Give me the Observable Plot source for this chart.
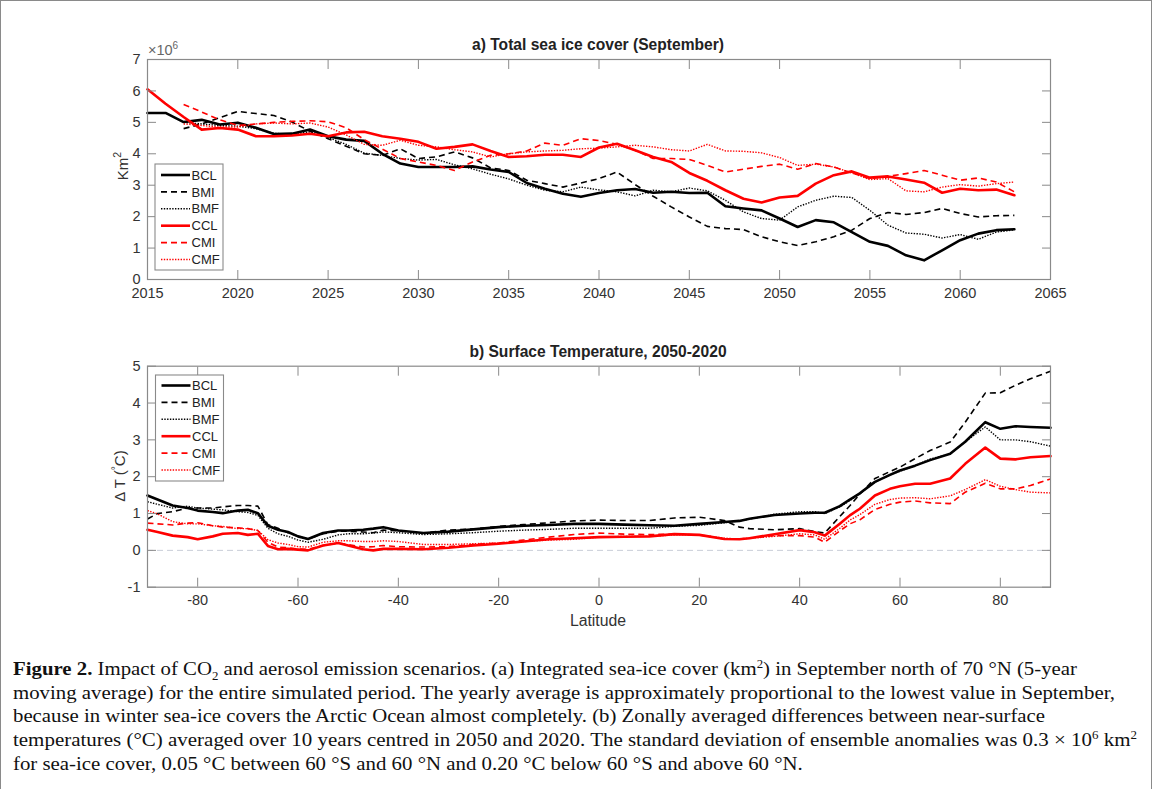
<!DOCTYPE html>
<html><head><meta charset="utf-8">
<script src="https://cdn.jsdelivr.net/npm/d3@7"></script>
<script src="https://cdn.jsdelivr.net/npm/@observablehq/plot@0.6"></script>
<style>
html,body{margin:0;padding:0;background:#fff;}
body{width:1153px;height:789px;position:relative;overflow:hidden;font-family:"Liberation Sans",Arial,sans-serif;}
#frame{position:absolute;left:0;top:0;width:1152px;height:900px;border:1px solid #8a8a8a;box-sizing:border-box;pointer-events:none}
.panel{position:absolute;left:0}
#pa{top:0}
#pb{top:310px}
#caption{position:absolute;left:13px;top:657px;font-family:"Liberation Serif","Times New Roman",serif;font-size:19px;line-height:23.7px;color:#111}
#caption div{white-space:nowrap;transform-origin:0 0;display:inline-block}
#caption sub,#caption sup{font-size:0.62em;line-height:0}
</style></head>
<body>
<div id="frame"></div>
<div id="pa" class="panel"></div>
<div id="pb" class="panel"></div>
<div id="caption"></div>
<script>
// ---------- Data ----------
const years = d3.range(2015, 2064);
const seaBCL = [5.3,5.3,5.01,5.08,4.93,4.99,4.83,4.63,4.64,4.77,4.56,4.45,4.41,4.0,3.69,3.58,3.58,3.58,3.6,3.5,3.42,3.07,2.89,2.73,2.63,2.75,2.84,2.88,2.76,2.79,2.75,2.76,2.33,2.26,2.2,1.94,1.67,1.89,1.82,1.51,1.2,1.07,0.77,0.61,0.93,1.25,1.46,1.57,1.6];
const seaBMI = [null,null,4.8,4.95,5.15,5.35,5.28,5.22,5.01,4.72,4.48,4.24,4.0,3.95,4.16,3.85,3.9,4.06,3.87,3.55,3.47,3.16,3.05,2.94,3.07,3.21,3.42,3.02,2.65,2.31,1.99,1.69,1.62,1.59,1.36,1.2,1.08,1.2,1.36,1.57,1.94,2.13,2.07,2.13,2.26,2.1,1.99,2.03,2.04];
const seaBMF = [null,null,5.0,4.95,4.9,4.88,4.8,4.65,4.62,4.7,4.52,4.3,4.02,3.95,3.85,3.8,3.82,3.65,3.52,3.35,3.2,3.0,2.84,2.79,2.94,2.85,2.79,2.66,2.84,2.79,2.91,2.82,2.52,2.15,1.94,1.89,2.31,2.52,2.65,2.61,2.2,1.73,1.48,1.44,1.32,1.43,1.28,1.51,1.58];
const seaCCL = [6.05,5.59,5.17,4.77,4.82,4.77,4.56,4.56,4.58,4.64,4.56,4.68,4.7,4.56,4.48,4.38,4.16,4.22,4.3,4.09,3.9,3.92,3.97,3.97,3.9,4.2,4.32,4.11,3.9,3.74,3.39,3.14,2.84,2.57,2.45,2.61,2.66,3.05,3.32,3.44,3.24,3.28,3.18,3.08,2.76,2.89,2.84,2.86,2.68];
const seaCMI = [null,null,5.57,5.33,5.08,4.9,4.95,5.0,5.03,5.05,5.02,4.83,4.45,4.15,3.85,3.74,3.63,3.47,3.74,3.95,4.0,4.09,4.34,4.27,4.48,4.42,4.3,4.11,3.85,3.85,3.82,3.63,3.42,3.51,3.6,3.67,3.51,3.69,3.58,3.39,3.21,3.28,3.37,3.47,3.32,3.16,3.23,3.1,2.79];
const seaCMF = [null,null,4.95,4.9,4.85,4.85,4.95,4.98,4.95,4.98,4.85,4.6,4.3,4.27,4.43,4.27,4.22,4.13,4.06,3.9,4.0,4.06,4.09,4.11,4.16,4.18,4.22,4.27,4.22,4.13,4.09,4.3,4.09,4.08,4.03,3.88,3.63,3.67,3.58,3.39,3.18,3.21,2.82,2.79,2.94,3.02,2.97,3.05,3.1];

const lat = [-90,-88,-85,-82,-80,-77,-75,-72,-70,-68,-66,-64,-62,-60,-58,-55,-52,-50,-47,-45,-43,-40,-35,-30,-25,-20,-15,-10,-5,0,5,10,15,20,25,28,30,35,40,43,45,48,50,52,55,58,60,63,66,70,73,77,80,83,86,90];
const tBCL = [1.49,1.38,1.22,1.15,1.08,1.04,1.01,1.08,1.10,1.01,0.67,0.56,0.50,0.38,0.31,0.47,0.54,0.54,0.56,0.59,0.63,0.54,0.47,0.51,0.57,0.63,0.67,0.69,0.72,0.72,0.70,0.68,0.67,0.72,0.77,0.80,0.86,0.96,1.00,1.02,1.02,1.20,1.38,1.55,1.86,2.05,2.17,2.30,2.45,2.62,2.95,3.48,3.30,3.37,3.35,3.33];
const tBMI = [0.85,1.00,1.05,1.15,1.15,1.15,1.18,1.22,1.22,1.20,0.70,0.60,0.48,0.38,0.31,0.45,0.52,0.52,0.50,0.48,0.55,0.53,0.47,0.55,0.58,0.65,0.70,0.75,0.80,0.82,0.81,0.81,0.88,0.90,0.81,0.63,0.59,0.56,0.59,0.51,0.47,0.92,1.21,1.53,1.95,2.14,2.26,2.49,2.71,2.94,3.48,4.27,4.28,4.48,4.66,4.86];
const tBMF = [1.32,1.25,1.15,1.20,1.15,1.12,1.10,1.05,1.03,0.95,0.60,0.45,0.38,0.28,0.22,0.30,0.42,0.45,0.45,0.47,0.50,0.48,0.43,0.45,0.48,0.52,0.55,0.57,0.60,0.60,0.60,0.60,0.65,0.68,0.75,0.80,0.85,0.98,1.05,1.05,1.00,1.18,1.35,1.55,1.85,2.05,2.15,2.30,2.48,2.62,2.95,3.35,3.00,3.00,2.95,2.83];
const tCCL = [0.56,0.50,0.40,0.36,0.30,0.38,0.45,0.47,0.42,0.45,0.12,0.03,0.04,0.02,0.00,0.13,0.20,0.13,0.03,0.00,0.04,0.04,0.03,0.07,0.13,0.18,0.24,0.30,0.33,0.36,0.37,0.38,0.44,0.42,0.31,0.30,0.33,0.44,0.55,0.49,0.40,0.72,0.95,1.13,1.49,1.67,1.74,1.81,1.81,1.95,2.35,2.79,2.49,2.47,2.53,2.56];
const tCMI = [0.74,0.72,0.69,0.74,0.75,0.67,0.63,0.61,0.59,0.54,0.22,0.09,0.07,0.04,0.03,0.13,0.20,0.16,0.09,0.10,0.13,0.10,0.09,0.10,0.16,0.20,0.28,0.36,0.43,0.47,0.44,0.43,0.44,0.42,0.31,0.31,0.33,0.40,0.40,0.36,0.22,0.53,0.72,0.83,1.11,1.25,1.31,1.34,1.29,1.27,1.58,1.82,1.67,1.67,1.76,1.94];
const tCMF = [1.08,0.99,0.78,0.72,0.72,0.67,0.65,0.59,0.59,0.54,0.29,0.20,0.16,0.10,0.09,0.22,0.26,0.26,0.24,0.24,0.26,0.24,0.16,0.16,0.18,0.20,0.24,0.28,0.30,0.36,0.38,0.38,0.42,0.42,0.33,0.31,0.33,0.38,0.45,0.42,0.30,0.60,0.82,0.97,1.25,1.38,1.42,1.43,1.40,1.48,1.65,1.92,1.74,1.65,1.58,1.56];

const seriesNames = ["BCL","BMI","BMF","CCL","CMI","CMF"];
const xTicksA = [2015,2020,2025,2030,2035,2040,2045,2050,2055,2060,2065];
const yTicksA = [0,1,2,3,4,5,6,7];
const xTicksB = [-80,-60,-40,-20,0,20,40,60,80];
const yTicksB = [-1,0,1,2,3,4,5];

// ---------- Styles ----------
const styleOf = {
  BCL:{stroke:"#000", w:2.6, dash:null},
  BMI:{stroke:"#000", w:1.6, dash:"6,4"},
  BMF:{stroke:"#000", w:1.4, dash:"1.4,1.4"},
  CCL:{stroke:"#f00", w:2.6, dash:null},
  CMI:{stroke:"#f00", w:1.6, dash:"6,4"},
  CMF:{stroke:"#f00", w:1.4, dash:"1.4,1.4"}
};
const AX = "#8a8a8a", TXT = "#333";

function rows(xs, vals) { return xs.map((x,i)=>({x, v: vals[i]})).filter(d=>d.v!=null); }
const seaData = {BCL:seaBCL,BMI:seaBMI,BMF:seaBMF,CCL:seaCCL,CMI:seaCMI,CMF:seaCMF};
const tData = {BCL:tBCL,BMI:tBMI,BMF:tBMF,CCL:tCCL,CMI:tCMI,CMF:tCMF};

function lineMarks(xs, dataMap) {
  return seriesNames.map(n => Plot.line(rows(xs, dataMap[n]), {
    x:"x", y:"v", stroke: styleOf[n].stroke, strokeWidth: styleOf[n].w,
    strokeDasharray: styleOf[n].dash ?? undefined, strokeLinejoin:"round", strokeLinecap: styleOf[n].dash ? "butt" : "round"
  }));
}
function axisMarks(xt, yt, fmtX) {
  return [
    Plot.axisX({ticks: xt, anchor:"bottom", tickSize:0, tickPadding:8, tickFormat: fmtX, fill: TXT, label:null, fontSize:14.5}),
    Plot.axisX({ticks: xt, anchor:"bottom", tickSize:9, dy:-9, stroke: AX, fill:"none", label:null}),
    Plot.axisX({ticks: xt, anchor:"top", tickSize:9, dy:9, stroke: AX, fill:"none", label:null}),
    Plot.axisY({ticks: yt, anchor:"left", tickSize:0, tickPadding:7, tickFormat: d=>String(d), fill: TXT, label:null, fontSize:14.5}),
    Plot.axisY({ticks: yt, anchor:"left", tickSize:9, dx:9, stroke: AX, fill:"none", label:null}),
    Plot.axisY({ticks: yt, anchor:"right", tickSize:9, dx:-9, stroke: AX, fill:"none", label:null}),
    Plot.frame({stroke: AX, strokeWidth:1.2})
  ];
}

const common = {width:1153, marginLeft:147, marginRight:103,
  style:{fontFamily:"'Liberation Sans', Arial, sans-serif", fontSize:"14.5px", background:"transparent", overflow:"visible"}};

const plotA = Plot.plot({
  ...common, height:310, marginTop:59, marginBottom:31,
  x:{domain:[2015,2065]}, y:{domain:[0,7]},
  marks:[...lineMarks(years, seaData), ...axisMarks(xTicksA, yTicksA, d=>String(d))]
});
document.getElementById("pa").appendChild(plotA);

const plotB = Plot.plot({
  ...common, height:330, marginTop:55.7, marginBottom:53.3,
  x:{domain:[-90,90]}, y:{domain:[-1,5]},
  marks:[
    Plot.ruleY([0], {stroke:"#c9ced8", strokeWidth:1, strokeDasharray:"6,4"}),
    ...lineMarks(lat, tData), ...axisMarks(xTicksB, yTicksB, d=>String(d))]
});
document.getElementById("pb").appendChild(plotB);

// ---------- Annotations ----------
function addText(svg, x, y, txt, opts={}) {
  const t = d3.select(svg).append("text").attr("x", x).attr("y", y)
    .attr("text-anchor", opts.anchor || "middle")
    .attr("font-family", "'Liberation Sans', Arial, sans-serif")
    .attr("font-size", opts.size || 14).attr("fill", opts.fill || TXT);
  if (txt) t.text(txt);
  if (opts.bold) t.attr("font-weight", "bold");
  if (opts.rotate) t.attr("transform", `rotate(-90 ${x} ${y})`);
  return t;
}
function addLegend(svg, x0, y0, off) {
  const g = d3.select(svg).append("g");
  g.append("rect").attr("x", x0).attr("y", y0).attr("width", 68).attr("height", 106)
    .attr("fill", "#fff").attr("stroke", AX).attr("stroke-width", 1.1);
  seriesNames.forEach((n, i) => {
    const cy = y0 + off + i * 16.9, s = styleOf[n];
    g.append("line").attr("x1", x0 + 6).attr("x2", x0 + 35).attr("y1", cy).attr("y2", cy)
      .attr("stroke", s.stroke).attr("stroke-width", s.w).attr("stroke-dasharray", s.dash);
    g.append("text").attr("x", x0 + 36.5).attr("y", cy).attr("dy", "0.36em").attr("text-anchor", "start")
      .attr("font-family", "'Liberation Sans', Arial, sans-serif").attr("font-size", 13).attr("fill", "#222").text(n);
  });
}

// Panel a
addText(plotA, 598, 50, "a) Total sea ice cover (September)", {bold:true, size:15.6, fill:"#222"});
{
  const t = addText(plotA, 148, 55, "", {anchor:"start", size:14.5, fill:"#666"});
  t.append("tspan").text("×10");
  t.append("tspan").attr("dy", -6.5).attr("font-size", 10).text("6");
}
{
  const t = addText(plotA, 128, 166, "", {rotate:true, size:15});
  t.append("tspan").text("Km");
  t.append("tspan").attr("dy", -7).attr("font-size", 10.5).text("2");
}
addLegend(plotA, 155, 164, 11);

// Panel b
addText(plotB, 598, 47, "b) Surface Temperature, 2050-2020", {bold:true, size:15.6, fill:"#222"});
{
  const t = addText(plotB, 125, 166, "", {rotate:true, size:15});
  t.append("tspan").text("Δ T (");
  t.append("tspan").attr("dy", -6).attr("font-size", 10).text("°");
  t.append("tspan").attr("dy", 6).text("C)");
}
addText(plotB, 598, 316, "Latitude", {size:15.8});
addLegend(plotB, 155.5, 65, 10.5);

// ---------- Caption ----------
const captionLines = [
  '<b>Figure 2.</b> Impact of CO<sub>2</sub> and aerosol emission scenarios. (a) Integrated sea-ice cover (km<sup>2</sup>) in September north of 70 °N (5-year',
  'moving average) for the entire simulated period. The yearly average is approximately proportional to the lowest value in September,',
  'because in winter sea-ice covers the Arctic Ocean almost completely. (b) Zonally averaged differences between near-surface',
  'temperatures (°C) averaged over 10 years centred in 2050 and 2020. The standard deviation of ensemble anomalies was 0.3 × 10<sup>6</sup> km<sup>2</sup>',
  'for sea-ice cover, 0.05 °C between 60 °S and 60 °N and 0.20 °C below 60 °S and above 60 °N.'
];
const captionEnds = [1077, 1115, 1045, 1137, null];
const cap = document.getElementById("caption");
const divs = captionLines.map(h => { const d = document.createElement("div"); d.innerHTML = h; cap.appendChild(d); cap.appendChild(document.createElement("br")); return d; });
const scales = [];
divs.forEach((d, i) => {
  if (captionEnds[i] == null) return;
  const w = d.getBoundingClientRect().width;
  const s = (captionEnds[i] - 13) / w; scales.push(s);
  d.style.transform = `scaleX(${s})`;
});
const avg = d3.mean(scales);
divs.forEach((d, i) => { if (captionEnds[i] == null) d.style.transform = `scaleX(${avg})`; });
</script>
</body></html>
